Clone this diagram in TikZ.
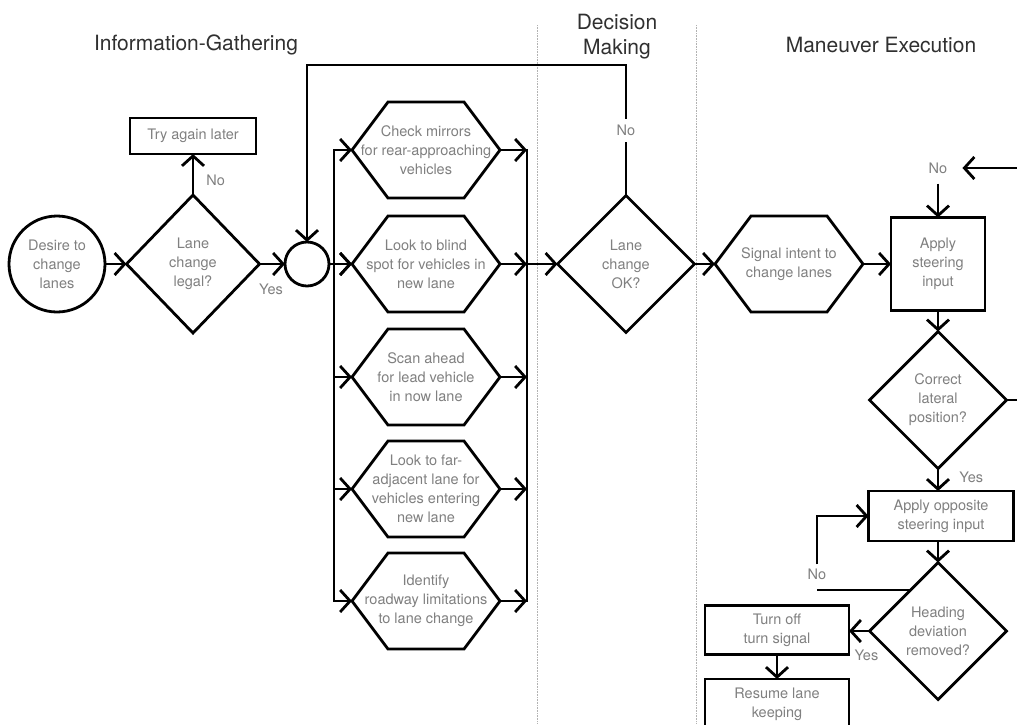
\documentclass[tikz,border=0pt]{standalone}
\usepackage{fontspec}
\setmainfont{TeX Gyre Heros}
\usepackage{xcolor}
\usetikzlibrary{arrows.meta,shapes.geometric,calc}

\definecolor{boxtext}{HTML}{808080}
\definecolor{headtext}{HTML}{303030}

\tikzset{
  base/.style={line width=2.8pt, text=boxtext, font=\fontsize{14.5}{19}\selectfont, align=center, inner sep=0pt, outer sep=0pt},
  rectbox/.style={base, draw, rectangle},
  hexbox/.style={base, minimum width=148pt, minimum height=96pt,
    append after command={\pgfextra{\draw[line width=2.8pt]
      (\tikzlastnode.west) -- ([xshift=36pt]\tikzlastnode.north west) -- ([xshift=-36pt]\tikzlastnode.north east)
      -- (\tikzlastnode.east) -- ([xshift=-36pt]\tikzlastnode.south east) -- ([xshift=36pt]\tikzlastnode.south west) -- cycle;}}},
  choice/.style={base, draw, diamond, minimum width=137pt, minimum height=137pt},
  roundbox/.style={base, draw, circle},
  lbl/.style={text=boxtext, font=\fontsize{14.5}{19}\selectfont, inner sep=2pt},
  header/.style={text=headtext, font=\fontsize{21}{25}\selectfont, align=center},
  wire/.style={line width=2.8pt},
  flow/.style={wire, -{Straight Barb[length=10pt,width=22pt]}},
  lane/.style={gray!60, line width=0.8pt, dash pattern=on 0.8pt off 0.8pt}
}

\begin{document}
\begin{tikzpicture}[x=1pt, y=-1pt]
\useasboundingbox[fill=white] (0,0) rectangle (1017,724);

% column headers and separators
\node[header] (hinfo) at (196,45) {Information-Gathering};
\node[header] (hdec) at (617,37) {Decision\\Making};
\node[header] (hman) at (881,45) {Maneuver Execution};
\draw[lane] (537,25) -- (537,724);
\draw[lane] (696,25) -- (696,724);

% information gathering
\node[roundbox, minimum size=96pt] (desire) at (57,264) {Desire to\\change\\lanes};
\node[choice, minimum width=133pt, minimum height=138pt] (legal) at (193,264) {Lane\\change\\legal?};
\node[rectbox, minimum width=126pt, minimum height=36pt] (retry) at (193,136) {Try again later};
\node[roundbox, minimum size=44pt] (join) at (307,264) {};
\draw[flow] (desire) -- (legal);
\draw[flow] (legal) -- node[lbl, pos=0.45, below=17pt] {Yes} (join);
\draw[flow] (legal.north) -- node[lbl, pos=0.35, right=10pt] {No} (retry.south);

\coordinate (lbus) at (334,0);
\coordinate (rbus) at (527,0);
\foreach \nm/\yy/\txt in {mirrors/150/{Check mirrors\\for rear-approaching\\vehicles},
    blind/264/{Look to blind\\spot for vehicles in\\new lane},
    ahead/377/{Scan ahead\\for lead vehicle\\in now lane},
    faradj/489/{Look to far-\\adjacent lane for\\vehicles entering\\new lane},
    limits/601/{Identify\\roadway limitations\\to lane change}} {
  \node[hexbox] (\nm) at (426,\yy) {\txt};
  \draw[flow] (lbus |- \nm.west) -- (\nm.west);
  \draw[flow] (\nm.east) -- (rbus |- \nm.east);
}
\draw[wire, line cap=rect] (lbus |- mirrors.west) -- (lbus |- limits.west);
\draw[wire, line cap=rect] (rbus |- mirrors.east) -- (rbus |- limits.east);
\draw[flow] (join) -- (blind.west);

% decision making
\node[choice] (okay) at (626,264) {Lane\\change\\OK?};
\coordinate (loop) at (626,65);
\draw[flow] (rbus |- blind.east) -- (okay);
\draw[flow] (okay.north) -- node[lbl, fill=white, inner sep=6pt] {No} (loop) -| (join.north);

% maneuver execution
\node[hexbox] (signal) at (789,264) {Signal intent to\\change lanes};
\node[rectbox, minimum width=94pt, minimum height=93pt] (steer) at (938,264) {Apply\\steering\\input};
\node[choice] (lateral) at (938,400) {Correct\\lateral\\position?};
\node[rectbox, minimum width=145pt, minimum height=50pt] (oppo) at (941,516) {Apply opposite\\steering input};
\node[choice] (heading) at (938,631) {Heading\\deviation\\removed?};
\node[rectbox, minimum width=144pt, minimum height=49pt] (signoff) at (777,630) {Turn off\\turn signal};
\node[rectbox, minimum width=144pt, minimum height=50pt] (resume) at (777,704) {Resume lane\\keeping};
\node[lbl, inner xsep=15pt, inner ysep=10pt] (steerno) at (938,168) {No};
\node[lbl, inner sep=4pt] (headno) at (817,574) {No};
\coordinate (rloop) at (1030,400);
\coordinate (hedge) at ($(heading.north)!0.4!(heading.west)$);

\draw[flow] (okay) -- (signal);
\draw[flow] (signal) -- (steer);
\draw[flow] (steerno.south) -- (steer.north);
\draw[flow] (steer) -- (lateral);
\draw[flow] (lateral.east) -- (rloop) |- (steerno.east);
\draw[flow] (lateral.south) -- node[lbl, pos=0.4, right=18pt] {Yes} (lateral.south |- oppo.north);
\draw[flow] (heading.north |- oppo.south) -- (heading.north);
\draw[flow] (heading.west) -- node[lbl, pos=0.15, below=16pt] {Yes} (heading.west -| signoff.east);
\draw[flow] (signoff) -- (resume);
\draw[wire] (hedge) -- (headno.south |- hedge);
\draw[flow] (headno.north) |- (oppo.west);
\end{tikzpicture}
\end{document}
